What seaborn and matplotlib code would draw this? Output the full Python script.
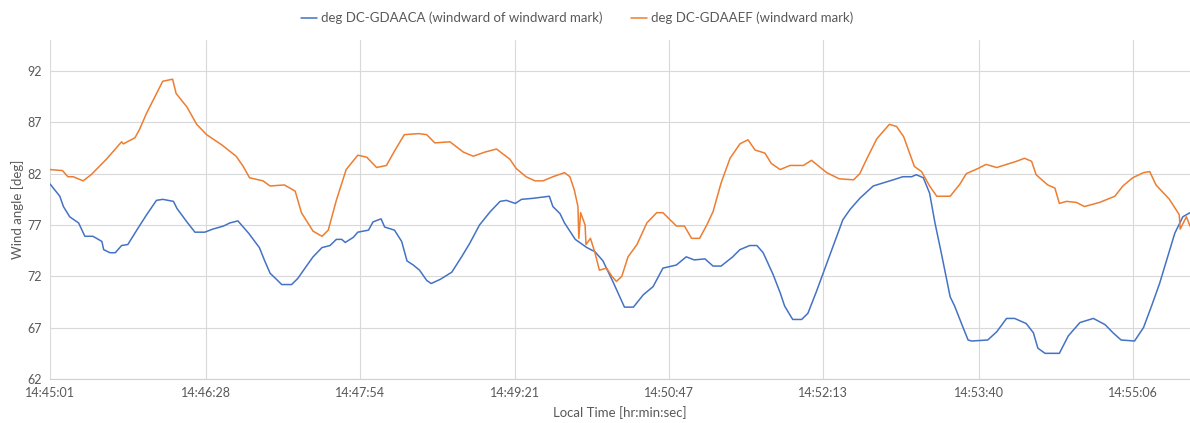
import pandas as pd
import seaborn as sns
import matplotlib.pyplot as plt

# series names (legend)
name_aaca = 'deg DC-GDAACA (windward of windward mark)'
name_aaef = 'deg DC-GDAAEF (windward mark)'

# wind angle readings, time in seconds after 14:45:01
t_aaca = [0, 5.5, 7.5, 11, 16, 19.5, 24, 29, 30, 33.5, 36.5, 40, 43.5, 48.5, 54, 59.5,
          63, 69, 71, 76.5, 81, 86.5, 91, 97, 100.5, 105, 111, 117, 120, 123, 126,
          129.5, 135, 138.5, 142.5, 147, 152, 156.5, 160, 163, 165, 169.5, 172, 178,
          180.5, 185, 187, 192.5, 196.5, 199.5, 203, 206.5, 210.5, 213, 218, 224.5,
          230, 234.5, 240, 246, 251.5, 255, 260, 263.5, 270, 279, 281, 285, 287.5,
          293.5, 300, 304.5, 309, 314.5, 321, 326, 331.5, 337, 342.5, 350, 355.5, 360,
          366, 370.5, 375, 381.5, 385.5, 391, 395, 398.5, 404, 408, 410.5, 415, 420,
          423.5, 428, 432, 437.5, 443, 447, 452.5, 460, 467.5, 473, 476.5, 481.5, 484,
          488, 491.5, 494.5, 498, 503, 505.5, 510, 513, 515, 524, 529, 534.5, 539,
          545.5, 549.5, 552, 556, 564, 569, 575.5, 583, 589.5, 594, 598.5, 606, 611,
          615.5, 620, 624, 628.5, 633, 637]
deg_aaca = [81.0, 79.8, 78.8, 77.8, 77.2, 75.9, 75.9, 75.4, 74.6, 74.3, 74.3, 75.0, 75.1,
            76.5, 78.0, 79.4, 79.5, 79.3, 78.6, 77.3, 76.3, 76.3, 76.6, 76.9, 77.2, 77.4,
            76.2, 74.8, 73.5, 72.3, 71.8, 71.2, 71.2, 71.8, 72.8, 73.9, 74.8, 75.0, 75.6,
            75.6, 75.3, 75.8, 76.3, 76.5, 77.3, 77.6, 76.8, 76.5, 75.4, 73.5, 73.1, 72.6,
            71.6, 71.3, 71.7, 72.4, 73.9, 75.2, 77.0, 78.3, 79.3, 79.4, 79.1, 79.5, 79.6,
            79.8, 78.8, 78.1, 77.2, 75.6, 74.8, 74.4, 73.5, 71.5, 69.0, 69.0, 70.2, 71.0,
            72.8, 73.1, 73.9, 73.6, 73.7, 73.0, 73.0, 73.9, 74.6, 75.0, 75.0, 74.3, 72.2,
            70.4, 69.1, 67.8, 67.8, 68.4, 70.4, 72.3, 74.9, 77.5, 78.5, 79.6, 80.8, 81.2,
            81.5, 81.7, 81.7, 81.9, 81.6, 80.1, 77.2, 74.3, 70.0, 69.1, 67.1, 65.8, 65.7,
            65.8, 66.6, 67.9, 67.9, 67.4, 66.5, 65.0, 64.5, 64.5, 66.2, 67.5, 67.9, 67.3,
            66.5, 65.8, 65.7, 67.0, 69.1, 71.3, 73.6, 76.2, 77.8, 78.2]

t_aaef = [0, 7, 10, 13, 18.5, 20, 23, 31.5, 40, 41, 47.5, 50, 54, 59.5, 63, 68.5, 70.5,
          76.5, 82, 87.5, 96, 104, 108, 111.5, 119, 123, 131, 137, 140.5, 147, 152,
          155.5, 160, 165.5, 172, 177, 182.5, 188, 192.5, 198, 206, 210.5, 215, 223.5,
          231, 236.5, 243, 249.5, 257, 260.5, 266, 271, 275.5, 281, 287.5, 290.5, 293,
          295, 295.5, 296.5, 299, 299.5, 302, 304.5, 307, 311, 314, 316.5, 319.5, 323,
          328, 333.5, 339, 342.5, 350, 354.5, 358.5, 363, 367, 370.5, 375, 380, 385.5,
          390, 394, 399.5, 403, 408, 413.5, 421, 425.5, 434, 441, 449, 452.5, 456, 462,
          469, 473, 477, 483, 487, 491.5, 495.5, 503, 508.5, 512, 518.5, 523, 529, 540,
          544.5, 548.5, 551, 557.5, 561.5, 564, 568, 573.5, 578, 586.5, 595, 599.5, 605,
          611, 614.5, 618, 625.5, 631, 631.5, 635, 637]
deg_aaef = [82.4, 82.3, 81.7, 81.7, 81.3, 81.5, 81.9, 83.4, 85.1, 84.9, 85.5, 86.3, 87.9,
            89.8, 91.0, 91.2, 89.8, 88.5, 86.8, 85.8, 84.8, 83.7, 82.7, 81.6, 81.3, 80.8,
            80.9, 80.3, 78.2, 76.4, 75.9, 76.5, 79.4, 82.4, 83.8, 83.6, 82.6, 82.8, 84.2,
            85.8, 85.9, 85.8, 85.0, 85.1, 84.1, 83.7, 84.1, 84.4, 83.4, 82.5, 81.7, 81.3,
            81.3, 81.7, 82.1, 81.7, 80.4, 78.8, 75.7, 78.2, 77.0, 75.1, 75.7, 74.3, 72.6,
            72.8, 72.0, 71.5, 72.0, 73.9, 75.1, 77.2, 78.2, 78.2, 76.9, 76.9, 75.7, 75.7,
            77.0, 78.3, 81.1, 83.5, 84.9, 85.3, 84.3, 84.0, 83.0, 82.4, 82.8, 82.8, 83.3,
            82.1, 81.5, 81.4, 82.0, 83.3, 85.4, 86.8, 86.6, 85.6, 82.7, 82.2, 80.8, 79.8,
            79.8, 81.0, 82.0, 82.5, 82.9, 82.6, 83.2, 83.5, 83.2, 81.9, 80.9, 80.6, 79.1,
            79.3, 79.2, 78.8, 79.2, 79.8, 80.8, 81.6, 82.1, 82.2, 80.9, 79.5, 78.0, 76.6,
            77.8, 76.9]

tick_labels = ['14:45:01', '14:46:28', '14:47:54', '14:49:21',
               '14:50:47', '14:52:13', '14:53:40', '14:55:06']
y_ticks = [62, 67, 72, 77, 82, 87, 92]

df = pd.concat([
    pd.DataFrame({'t': t_aaca, 'deg': deg_aaca, 'series': name_aaca}),
    pd.DataFrame({'t': t_aaef, 'deg': deg_aaef, 'series': name_aaef}),
], ignore_index=True)

start = pd.Timedelta(tick_labels[0])
tick_pos = [(pd.Timedelta(s) - start).total_seconds() for s in tick_labels]

sns.set_style('white')
plt.rcParams['font.family'] = ['Lato', 'DejaVu Sans']

fig = plt.figure(figsize=(11.9, 4.23), dpi=100)
ax = fig.add_axes([0.042, 0.104, 0.958, 0.801])

sns.lineplot(data=df, x='t', y='deg', hue='series',
             palette=['#4472C4', '#ED7D31'], linewidth=1.1,
             estimator=None, sort=False, ax=ax)

ax.set_xlim(0, 637)
ax.set_ylim(62, 95)
ax.set_xticks(tick_pos)
ax.set_xticklabels(tick_labels)
ax.set_yticks(y_ticks)
ax.grid(True, color='#d9d9d9', linewidth=0.8)
ax.set_axisbelow(True)
for side in ['top', 'right', 'left']:
    ax.spines[side].set_visible(False)
ax.spines['bottom'].set_color('#d0d0d0')
ax.tick_params(length=0, labelsize=9, colors='#595959', pad=6)

ax.set_xlabel('Local Time [hr:min:sec]', fontsize=9.5, color='#595959', labelpad=5)
ax.set_ylabel('Wind angle [deg]', fontsize=9.5, color='#595959', labelpad=2)

ax.get_legend().remove()
handles, labels = ax.get_legend_handles_labels()
fig.legend(handles, labels, loc='upper center', bbox_to_anchor=(0.485, 1.0),
           ncol=2, frameon=False, fontsize=9.5, handlelength=1.2,
           handletextpad=0.3, columnspacing=2.2, labelcolor='#595959')

fig.savefig('out.png', dpi=100)
